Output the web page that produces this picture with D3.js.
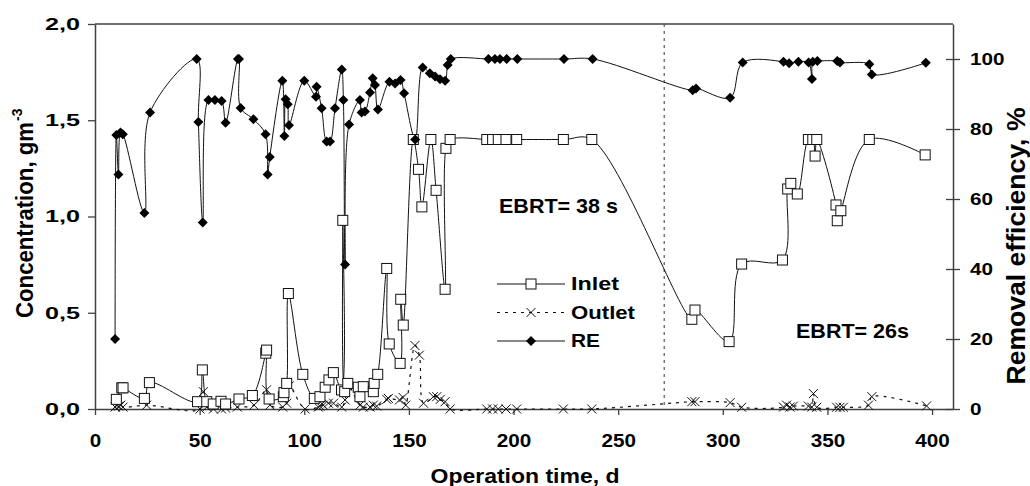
<!DOCTYPE html>
<html><head><meta charset="utf-8">
<script src="https://cdn.jsdelivr.net/npm/d3@7"></script>
<style>
body{margin:0;background:#fff}
svg{display:block}
text{font-family:"Liberation Sans",Arial,sans-serif;font-weight:bold;fill:#000}
</style>
</head><body><svg id="c" width="1030" height="486"></svg>
<script>
// ---------- data ----------
const xTicks = [0, 50, 100, 150, 200, 250, 300, 350, 400];
const leftTicks = [0, 0.5, 1.0, 1.5, 2.0];
const rightTicks = [0, 20, 40, 60, 80, 100];

const inletDays = [10.2,12.8,13.4,23.6,26,49,51.3,53.4,56.5,60.2,62.4,68.8,75.2,81.6,82,83.2,90,90.3,91.6,92.4,99.3,104.8,107.5,110,111.8,113.9,117.8,118.4,119.3,120.8,125.8,126.6,128.2,133,133.4,135.1,139.4,140.6,145.8,146.1,147.3,152.1,154.6,156.2,160.5,163,167.3,167.7,169.7,187.2,190,192.7,196.4,201.5,223.8,237.4,285.2,286.7,303,309,328.5,331,332.5,335.6,340.9,343,344.1,344.9,354.1,354.7,356.4,370,396.7];
const inletConc = [0.05,0.11,0.11,0.055,0.137,0.038,0.203,0.038,0.026,0.04,0.026,0.052,0.07,0.29,0.306,0.052,0.064,0.085,0.133,0.6,0.18,0.055,0.064,0.113,0.151,0.189,0.099,0.98,0.09,0.133,0.113,0.064,0.116,0.09,0.133,0.18,0.73,0.338,0.237,0.57,0.436,1.4,1.245,1.05,1.4,1.136,0.622,1.354,1.4,1.4,1.4,1.4,1.4,1.4,1.4,1.4,0.466,0.514,0.35,0.753,0.774,1.143,1.172,1.117,1.4,1.4,1.314,1.4,1.06,0.978,1.03,1.4,1.32];

const outletDays = [9.6,10.4,11.3,12.4,13.4,24.7,50.2,51.8,53.4,56.6,60.5,62.4,68,76,82,83.6,89.7,91.6,92.8,100.4,106.7,107.5,109.1,111.5,114,117.9,119.5,120.8,126.6,128.2,131.4,133,134.6,139.4,140.2,145.5,147.2,148.5,152.9,155,157,161.7,163.3,165,167.3,169.7,187.2,190,192.7,196.4,201.5,223.8,237.4,285.2,286.7,303.5,309,329,330.5,332.1,333.7,340.9,342.5,343.3,344.9,354.4,356,357.6,369.6,371.2,397.4];
const outletConc = [0.01,0.02,0.015,0.02,0.01,0.02,0.0,0.09,0.01,0.0,0.0,0.005,0.01,0.02,0.1,0.02,0.01,0.03,0.12,0.0,0.01,0.015,0.02,0.03,0.03,0.01,0.047,0.12,0.02,0.01,0.01,0.02,0.015,0.05,0.055,0.047,0.06,0.02,0.33,0.28,0.03,0.064,0.064,0.05,0.038,0.0,0,0,0,0,0,0,0,0.038,0.038,0.033,0.009,0.01,0.02,0.01,0.015,0.015,0.01,0.08,0.009,0.009,0.009,0.009,0.02,0.064,0.016];

const reDays = [9.6,10.2,11.2,12.2,13.3,23.6,26.3,48.6,49.4,51.5,54.2,57.3,60.5,62.4,68.3,68.8,69.6,75.7,81.5,82.5,83.5,89.5,90.5,91.1,92.1,92.7,100,105.6,105.9,108.3,110.7,112.3,114.7,117.9,118.7,119.5,121.4,126.6,127.4,129,131.4,132.7,133.8,135.2,140.7,143.4,146,147.7,153,156.6,160,162.5,164.9,167.3,168.5,170,188,191.1,193.5,196.7,201.8,224.1,237.8,285.6,287.2,303.5,309.5,329,331.7,336.1,341,342.6,343,345.2,354.7,356,370,371.2,397];
const reValues = [20,78.3,67,79,78.5,56,84.7,100,82,53.3,88.3,88.3,88,81.8,100,100,86,82.8,78.5,67,72,93.8,78,88.5,87.1,81.1,93.8,89.2,92.1,85.9,76.4,76.4,85.9,97,88.3,41.3,81.3,88.3,84.7,85,90.4,94.5,92.6,85.6,93.5,93,94,90.2,77,97.6,95.9,95,94.2,93.8,98.3,100,100,100,100,100,100,100,100,91.1,91.6,88.9,99,99.2,98.8,99.2,99,94.3,99.2,99.4,99.4,99,98.5,95.6,98.9];

const ebrtChangeDay = 272;
const seriesNames = ["Inlet", "Outlet", "RE"];
const annotations = ["EBRT= 38 s", "EBRT= 26s"];
const xTitle = "Operation time, d";
const yLeftTitle = "Concentration, gm";
const yLeftSup = "-3";
const yRightTitle = "Removal efficiency, %";

// ---------- chart ----------
const svg = d3.select('#c');
const x = d3.scaleLinear([0, 410], [95, 953]);
const yL = d3.scaleLinear([0, 2], [409, 24]);
const yR = d3.scaleLinear([0, 110], [409, 24]);
const axisColor = '#404040';

const labW = s => s.replace(/[^0-9]/g, '').length * 11.5 + (s.split(',').length - 1) * 12;

// top border
svg.append('line').attr('x1', x(0)).attr('x2', x(410)).attr('y1', yL(2)).attr('y2', yL(2))
  .attr('stroke', axisColor).attr('stroke-width', 1.5);

// bottom axis
const gx = svg.append('g').attr('transform', `translate(0,${yL(0)})`)
  .call(d3.axisBottom(x).tickValues(xTicks).tickSize(6).tickSizeOuter(0).tickFormat(d3.format('d')));
gx.selectAll('text').attr('y', 38).attr('dy', null).style('font-size', '18px')
  .attr('textLength', d => labW(String(d))).attr('lengthAdjust', 'spacingAndGlyphs');

// left axis
const fmtL = d => d.toFixed(1).replace('.', ',');
const gl = svg.append('g').attr('transform', `translate(${x(0)},0)`)
  .call(d3.axisLeft(yL).tickValues(leftTicks).tickSize(7).tickPadding(8).tickSizeOuter(0).tickFormat(fmtL));
gl.selectAll('text').style('font-size', '17px')
  .attr('textLength', d => labW(fmtL(d))).attr('lengthAdjust', 'spacingAndGlyphs');

// right axis
const gr = svg.append('g').attr('transform', `translate(${x(410)},0)`)
  .call(d3.axisRight(yR).tickValues(rightTicks).tickSize(7).tickPadding(10).tickSizeOuter(0).tickFormat(d3.format('d')));
gr.selectAll('.tick line').attr('x1', -7);
gr.selectAll('text').style('font-size', '17px')
  .attr('textLength', d => labW(String(d))).attr('lengthAdjust', 'spacingAndGlyphs');

[gx, gl, gr].forEach(g => {
  g.select('.domain').attr('stroke', axisColor).attr('stroke-width', 1.5);
  g.selectAll('.tick line').attr('stroke', axisColor).attr('stroke-width', 1.3);
});

// EBRT change line
svg.append('line').attr('x1', x(ebrtChangeDay)).attr('x2', x(ebrtChangeDay))
  .attr('y1', yL(2)).attr('y2', yL(0))
  .attr('stroke', '#555').attr('stroke-width', 1.2).attr('stroke-dasharray', '3,4');

// series
const curve = d3.curveCatmullRom.alpha(0.5);
const inlet = inletDays.map((d, i) => [d, inletConc[i]]);
const outlet = outletDays.map((d, i) => [d, outletConc[i]]);
const re = reDays.map((d, i) => [d, reValues[i]]);

const lineL = d3.line().x(d => x(d[0])).y(d => yL(d[1])).curve(curve);
const lineR = d3.line().x(d => x(d[0])).y(d => yR(d[1])).curve(curve);

svg.append('path').attr('d', lineL(inlet)).attr('fill', 'none').attr('stroke', '#111').attr('stroke-width', 1);
svg.append('path').attr('d', lineL(outlet)).attr('fill', 'none').attr('stroke', '#111').attr('stroke-width', 1.2).attr('stroke-dasharray', '3,5');
svg.append('path').attr('d', lineR(re)).attr('fill', 'none').attr('stroke', '#111').attr('stroke-width', 1);

const xMark = (g, s) => g.append('path').attr('d', `M${-s},${-s}L${s},${s}M${-s},${s}L${s},${-s}`)
  .attr('stroke', '#111').attr('stroke-width', 1).attr('fill', 'none');
const sqMark = (g, s) => g.append('rect').attr('x', -s).attr('y', -s).attr('width', 2 * s).attr('height', 2 * s)
  .attr('fill', '#fff').attr('stroke', '#111').attr('stroke-width', 1);
const dmMark = (g, s) => g.append('path').attr('d', `M0,${-s}L${s},0L0,${s}L${-s},0Z`).attr('fill', '#000');

svg.append('g').selectAll('g').data(outlet).join('g')
  .attr('transform', d => `translate(${x(d[0])},${yL(d[1])})`).each(function () { xMark(d3.select(this), 4.5); });
svg.append('g').selectAll('g').data(inlet).join('g')
  .attr('transform', d => `translate(${x(d[0])},${yL(d[1])})`).each(function () { sqMark(d3.select(this), 5); });
svg.append('g').selectAll('g').data(re).join('g')
  .attr('transform', d => `translate(${x(d[0])},${yR(d[1])})`).each(function () { dmMark(d3.select(this), 5); });

// legend
const leg = svg.append('g');
const legRows = [{ y: 284, tb: 289.5, w: 48 }, { y: 312.5, tb: 318.5, w: 64 }, { y: 341, tb: 347, w: 29 }];
seriesNames.forEach((n, i) => {
  const r = legRows[i];
  leg.append('line').attr('x1', 497).attr('x2', 565).attr('y1', r.y).attr('y2', r.y)
    .attr('stroke', '#111').attr('stroke-width', i === 1 ? 1.2 : 1).attr('stroke-dasharray', i === 1 ? '3,5' : null);
  const g = leg.append('g').attr('transform', `translate(531,${r.y})`);
  if (i === 0) sqMark(g, 5); else if (i === 1) xMark(g, 4.5); else dmMark(g, 5);
  leg.append('text').attr('x', 571).attr('y', r.tb).style('font-size', '19px').text(n)
    .attr('textLength', r.w).attr('lengthAdjust', 'spacingAndGlyphs');
});

// annotations
svg.append('text').attr('x', 499).attr('y', 213.3).style('font-size', '21px').text(annotations[0])
  .attr('textLength', 119).attr('lengthAdjust', 'spacingAndGlyphs');
svg.append('text').attr('x', 796).attr('y', 338.3).style('font-size', '21px').text(annotations[1])
  .attr('textLength', 113).attr('lengthAdjust', 'spacingAndGlyphs');

// axis titles
svg.append('text').attr('x', 525).attr('y', 483).attr('text-anchor', 'middle').style('font-size', '21px')
  .text(xTitle).attr('textLength', 189).attr('lengthAdjust', 'spacingAndGlyphs');

svg.append('text').attr('transform', 'translate(33,318) rotate(-90)').style('font-size', '23px')
  .text(yLeftTitle).attr('textLength', 196).attr('lengthAdjust', 'spacingAndGlyphs');
svg.append('text').attr('transform', `translate(22,${318 - 197}) rotate(-90)`).style('font-size', '14px').text(yLeftSup);

svg.append('text').attr('transform', 'translate(1025,246) rotate(-90)').attr('text-anchor', 'middle').style('font-size', '25px')
  .text(yRightTitle).attr('textLength', 277).attr('lengthAdjust', 'spacingAndGlyphs');
</script>
</body></html>
